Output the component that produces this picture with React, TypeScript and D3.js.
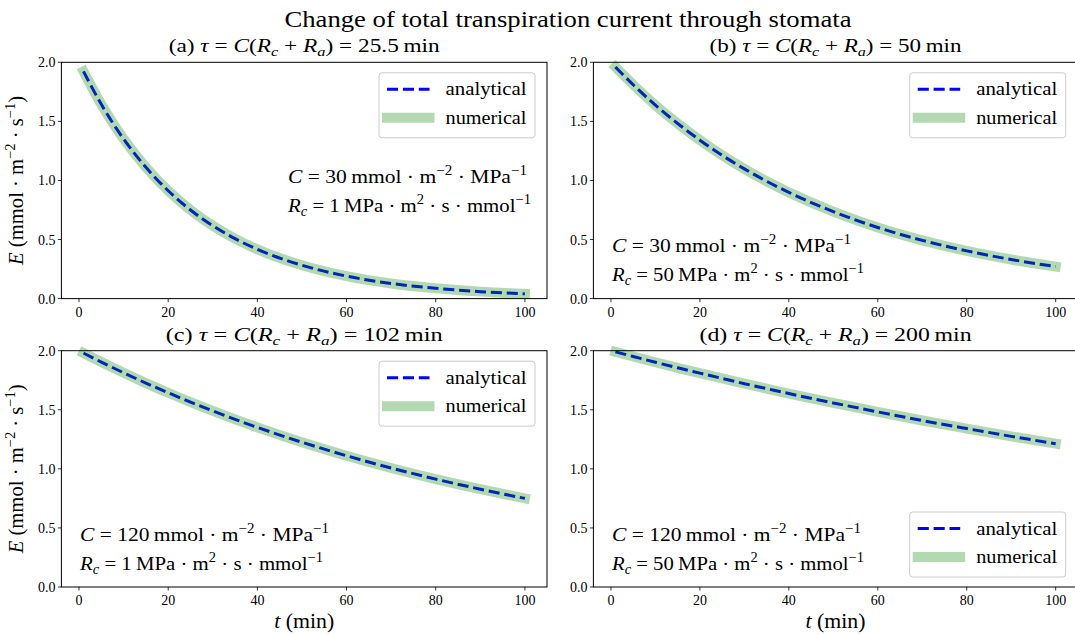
import React from 'react';
import * as d3 from 'd3';

// values (E in mmol m-2 s-1, t in min)
const times = [1, 5, 10, 15, 20, 25, 30, 35, 40, 50, 60, 70, 80, 90, 100];
const panelA = [1.923, 1.644, 1.351, 1.111, 0.913, 0.75, 0.617, 0.507, 0.417, 0.282, 0.19, 0.128, 0.087, 0.059, 0.04];
const panelB = [1.96, 1.81, 1.637, 1.482, 1.341, 1.213, 1.098, 0.993, 0.899, 0.736, 0.602, 0.493, 0.404, 0.331, 0.271];
const panelC = [1.98, 1.904, 1.813, 1.726, 1.644, 1.565, 1.49, 1.419, 1.351, 1.225, 1.111, 1.007, 0.913, 0.828, 0.75];
const panelD = [1.99, 1.951, 1.902, 1.855, 1.81, 1.765, 1.721, 1.679, 1.637, 1.558, 1.482, 1.409, 1.341, 1.275, 1.213];

const xTicks = [0, 20, 40, 60, 80, 100];
const yTicks = [0, 0.5, 1.0, 1.5, 2.0];
const panelLetters = ['a', 'b', 'c', 'd'];
const tauLabels = ['25.5', '50', '102', '200'];
const cLabels = ['30', '30', '120', '120'];
const rcLabels = ['1', '50', '1', '50'];
const seriesNames = ['analytical', 'numerical'];

const W = 1075;
const H = 635;
const FONT = "'Liberation Serif', 'DejaVu Serif', serif";

// widths of the LaTeX (Computer Modern) labels in the reference, px
const titleWidths = [271, 252, 277, 272];
const cWidths = [239, 239, 249, 249];
const rcWidths = [243, 252, 243, 252];

type Part = { s: string; i?: boolean; sup?: boolean; sub?: boolean };

// small helper for LaTeX-ish labels: italics, super- and subscripts
const MathText: React.FC<{
  x: number; y: number; size: number; parts: Part[];
  anchor?: 'start' | 'middle' | 'end'; transform?: string; width?: number;
}> = ({ x, y, size, parts, anchor = 'start', transform, width }) => {
  let shift = 0;
  return (
    <text x={x} y={y} fontSize={size} textAnchor={anchor} transform={transform}
      fontFamily={FONT} fill="#000"
      {...(width ? { textLength: width, lengthAdjust: 'spacingAndGlyphs' } : {})}>
      {parts.map((p, k) => {
        const target = p.sup ? -0.42 * size : p.sub ? 0.2 * size : 0;
        const dy = target - shift;
        shift = target;
        return (
          <tspan key={k} dy={dy} fontStyle={p.i ? 'italic' : 'normal'}
            fontSize={p.sup || p.sub ? size * 0.7 : size}>{p.s}</tspan>
        );
      })}
    </text>
  );
};

const Panel: React.FC<{
  idx: number; left: number; right: number; top: number; bottom: number;
  values: number[]; legendBottom?: boolean; notePos: [number, number];
  yLabel?: boolean; xLabel?: boolean;
}> = ({ idx, left, right, top, bottom, values, legendBottom, notePos, yLabel, xLabel }) => {
  const x = d3.scaleLinear().domain([-3.95, 104.95]).range([left, right]);
  const y = d3.scaleLinear().domain([0, 2]).range([bottom, top]);
  const pts = times.map((t, i) => [t, values[i]] as [number, number]);
  const line = d3.line<[number, number]>()
    .x(d => x(d[0]))
    .y(d => y(d[1]))
    .curve(d3.curveMonotoneX);
  const path = line(pts) || '';

  const lgW = 156;
  const lgH = 65;
  const lgX = right - 12 - lgW;
  const lgY = legendBottom ? bottom - 10 - lgH : top + 10.5;

  const [nx, ny] = notePos;
  const cx = (left + right) / 2;

  return (
    <g>
      {/* curves: analytical first, numerical translucent over it */}
      <path d={path} fill="none" stroke="#0000ff" strokeWidth={3} strokeDasharray="11.1 4.8" />
      <path d={path} fill="none" stroke="#008000" strokeOpacity={0.3} strokeWidth={10}
        strokeLinecap="square" strokeLinejoin="round" />

      {/* frame */}
      <rect x={left} y={top} width={right - left} height={bottom - top} fill="none" stroke="#000" strokeWidth={1} />

      {xTicks.map(t => (
        <g key={t}>
          <line x1={x(t)} x2={x(t)} y1={bottom} y2={bottom + 3.5} stroke="#000" strokeWidth={0.8} />
          <text x={x(t)} y={bottom + 18} fontSize={14} textAnchor="middle" fontFamily={FONT}>{t}</text>
        </g>
      ))}
      {yTicks.map(v => (
        <g key={v}>
          <line x1={left - 3.5} x2={left} y1={y(v)} y2={y(v)} stroke="#000" strokeWidth={0.8} />
          <text x={left - 6} y={y(v) + 5} fontSize={14} textAnchor="end" fontFamily={FONT}>{d3.format('.1f')(v)}</text>
        </g>
      ))}

      <MathText x={cx} y={top - 10} size={19} anchor="middle" width={titleWidths[idx]} parts={[
        { s: `(${panelLetters[idx]}) ` }, { s: 'τ', i: true }, { s: ' = ' }, { s: 'C', i: true },
        { s: '(' }, { s: 'R', i: true }, { s: 'c', i: true, sub: true }, { s: ' + ' },
        { s: 'R', i: true }, { s: 'a', i: true, sub: true }, { s: `) = ${tauLabels[idx]}\u2009min` },
      ]} />

      <MathText x={nx} y={ny} size={19.5} width={cWidths[idx]} parts={[
        { s: 'C', i: true }, { s: ` = ${cLabels[idx]}\u2009mmol · m` }, { s: '−2', sup: true },
        { s: ' · MPa' }, { s: '−1', sup: true },
      ]} />
      <MathText x={nx} y={ny + 29} size={19.5} width={rcWidths[idx]} parts={[
        { s: 'R', i: true }, { s: 'c', i: true, sub: true }, { s: ` = ${rcLabels[idx]}\u2009MPa · m` },
        { s: '2', sup: true }, { s: ' · s · mmol' }, { s: '−1', sup: true },
      ]} />

      {/* legend */}
      <g>
        <rect x={lgX} y={lgY} width={lgW} height={lgH} rx={3} fill="#fff" fillOpacity={0.8}
          stroke="#cccccc" strokeWidth={1} />
        <line x1={lgX + 8} x2={lgX + 50.5} y1={lgY + 16.5} y2={lgY + 16.5}
          stroke="#0000ff" strokeWidth={3} strokeDasharray="11.1 4.8" />
        <line x1={lgX + 8} x2={lgX + 50.5} y1={lgY + 45} y2={lgY + 45}
          stroke="#008000" strokeOpacity={0.3} strokeWidth={10} strokeLinecap="square" />
        <text x={lgX + 66.5} y={lgY + 22.5} fontSize={19} fontFamily={FONT}
          textLength={81} lengthAdjust="spacingAndGlyphs">{seriesNames[0]}</text>
        <text x={lgX + 66.5} y={lgY + 51} fontSize={19} fontFamily={FONT}
          textLength={81} lengthAdjust="spacingAndGlyphs">{seriesNames[1]}</text>
      </g>

      {yLabel && (
        <MathText x={0} y={0} size={20} anchor="middle" width={169}
          transform={`translate(23,${(top + bottom) / 2}) rotate(-90)`} parts={[
            { s: 'E', i: true }, { s: ' (mmol · m' }, { s: '−2', sup: true }, { s: ' · s' },
            { s: '−1', sup: true }, { s: ')' },
          ]} />
      )}
      {xLabel && (
        <MathText x={cx} y={bottom + 41} size={20} anchor="middle" width={60} parts={[
          { s: 't', i: true }, { s: ' (min)' },
        ]} />
      )}
    </g>
  );
};

const App: React.FC = () => {
  const cols: [number, number][] = [[61.4, 547], [593.4, 1077.7]];
  const rows: [number, number][] = [[62.3, 298.6], [350.7, 587]];
  const data = [panelA, panelB, panelC, panelD];
  const notes: [number, number][] = [[288, 183], [612, 252], [80, 541], [612, 541]];
  return (
    <svg width={W} height={H} style={{ position: 'absolute', left: 0, top: 0, background: '#fff' }}>
      <rect width={W} height={H} fill="#fff" />
      <text x={568} y={27} fontSize={23} textAnchor="middle" fontFamily={FONT}
        textLength={567} lengthAdjust="spacingAndGlyphs">
        Change of total transpiration current through stomata
      </text>
      {data.map((vals, i) => {
        const [left, right] = cols[i % 2];
        const [top, bottom] = rows[Math.floor(i / 2)];
        return (
          <Panel key={i} idx={i} left={left} right={right} top={top} bottom={bottom}
            values={vals} legendBottom={i === 3} notePos={notes[i]}
            yLabel={i % 2 === 0} xLabel={i >= 2} />
        );
      })}
    </svg>
  );
};

export default App;
